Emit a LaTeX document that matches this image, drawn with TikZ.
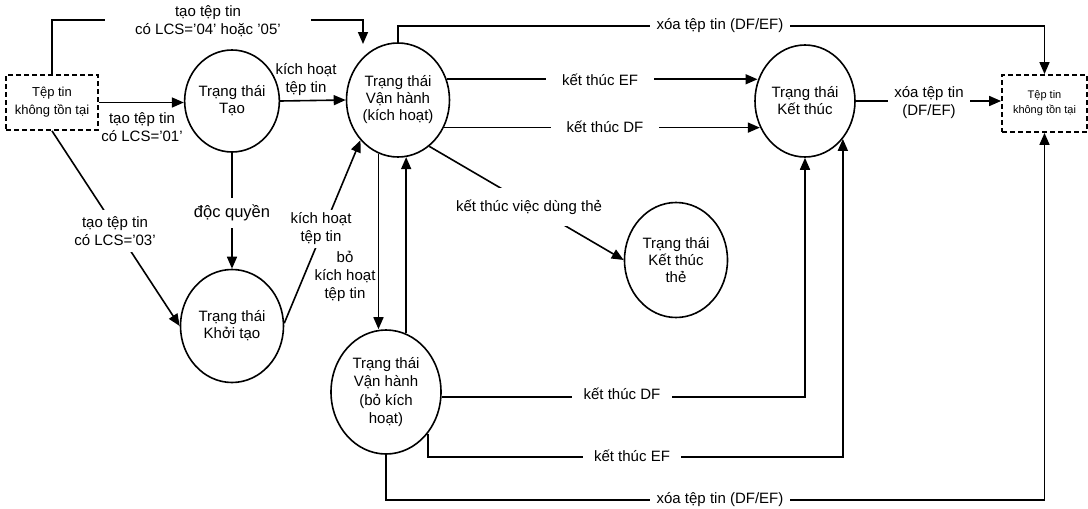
\documentclass[tikz,border=0pt]{standalone}
\usepackage{fontspec}
\setmainfont{Liberation Sans}
\usetikzlibrary{arrows.meta,shapes.geometric}
\begin{document}
\begin{tikzpicture}[x=1pt,y=-1pt,
  line width=1.6pt,
  >={Triangle[length=12pt,width=10pt]},
  st/.style={ellipse,draw,line width=1.6pt,inner sep=0pt,align=center,font=\fontsize{15}{17}\selectfont},
  dbox/.style={draw,dash pattern=on 5pt off 3pt,line width=1.8pt,inner sep=0pt,align=center},
  lab/.style={fill=white,inner sep=3pt,align=center,font=\fontsize{15}{18}\selectfont},
  conn/.style={->,line width=1.6pt}]
\useasboundingbox (0,0) rectangle (1088,509);
\fill[white] (0,0) rectangle (1088,509);

% states
\node[dbox,minimum width=92pt,minimum height=55pt,font=\fontsize{13}{18}\selectfont] (lbox) at (52,102.5) {Tệp tin\\không tồn tại};
\node[dbox,minimum width=85pt,minimum height=57pt,font=\fontsize{11}{15}\selectfont] (rbox) at (1044.5,103.5) {Tệp tin\\không tồn tại};
\node[st,minimum width=92pt,minimum height=102pt] (tao) at (232,101) {Trạng thái\\Tạo};
\node[st,minimum width=103pt,minimum height=114pt] (vh) at (398,100) {Trạng thái\\Vận hành\\(kích hoạt)};
\node[st,minimum width=103pt,minimum height=113pt] (kt) at (232,326) {Trạng thái\\Khởi tạo};
\node[st,minimum width=100pt,minimum height=112pt] (ktc) at (805,101) {Trạng thái\\Kết thúc};
\node[st,minimum width=103pt,minimum height=115pt] (the) at (676,260) {Trạng thái\\Kết thúc\\thẻ};
\node[st,minimum width=110pt,minimum height=124pt,font=\fontsize{15}{18.5}\selectfont] (vhb) at (386,392) {Trạng thái\\Vận hành\\(bỏ kích\\hoạt)};

% helper coordinates
\coordinate (yA) at (0,20);
\coordinate (a1) at (363,44);
\coordinate (yT) at (0,26);
\coordinate (yEF) at (0,457);
\coordinate (yX) at (0,500);

% connectors
\draw[conn] (lbox.north) -- (lbox.north |- yA) -| (a1);
\node[lab,inner xsep=30pt] (l1) at (208,21) {tạo tệp tin\\có LCS='04' hoặc '05'};

\draw[conn] (lbox.east) -- (lbox.east -| tao.west);
\node[lab,fill=none] (l2) at (142,127) {tạo tệp tin\\có LCS='01'};

\draw[conn] (lbox.south) -- (kt.west);
\node[lab,inner ysep=6pt] (l3) at (115,231) {tạo tệp tin\\có LCS='03'};

\draw[conn] (tao.south) -- (kt.north);
\node[lab,font=\fontsize{16.5}{18}\selectfont,inner ysep=7pt] (l4) at (232,213) {độc quyền};

\draw[conn] (tao.east) -- (vh.west);
\node[lab,fill=none] (l5) at (306,80) {kích hoạt\\tệp tin};

\draw[conn] (kt.3) -- (vh.227);
\node[lab] (l6) at (321,229) {kích hoạt\\tệp tin};

\draw[conn] (vh.250) -- (vh.250 |- vhb.north);
\node[lab,fill=none] (l7) at (345,276) {bỏ\\kích hoạt\\tệp tin};
\draw[conn] (vhb.71) -- (vhb.71 |- vh.278);

\draw[conn] (vh.23) -- (vh.23 -| ktc.157);
\node[lab,inner xsep=16pt] (l8) at (600,80) {kết thúc EF};

\draw[conn] (vh.329) -- (vh.329 -| ktc.210);
\node[lab,inner xsep=16pt] (l9) at (605,127) {kết thúc DF};

\draw[conn] (vh.north) -- (vh.north |- yT) -| (rbox.north);
\node[lab,inner xsep=7pt] (l10) at (720,26) {xóa tệp tin (DF/EF)};

\draw[conn] (ktc.east) -- (ktc.east -| rbox.west);
\node[lab,inner xsep=6pt] (l11) at (929,103) {xóa tệp tin\\(DF/EF)};

\draw[conn] (vh.304) -- (the.west);
\node[lab,inner ysep=12pt,inner xsep=2pt] (l12) at (529,207) {kết thúc việc dùng thẻ};

\draw[conn] (vhb.355) -| (ktc.south);
\node[lab,inner xsep=12pt] (l13) at (622,394) {kết thúc DF};

\draw[conn] (vhb.315) -- (vhb.315 |- yEF) -| (ktc.315);
\node[lab,inner xsep=11pt] (l14) at (632,456) {kết thúc EF};

\draw[conn] (vhb.south) -- (vhb.south |- yX) -| (rbox.south);
\node[lab,inner xsep=7pt] (l15) at (720,500) {xóa tệp tin (DF/EF)};
\end{tikzpicture}
\end{document}
